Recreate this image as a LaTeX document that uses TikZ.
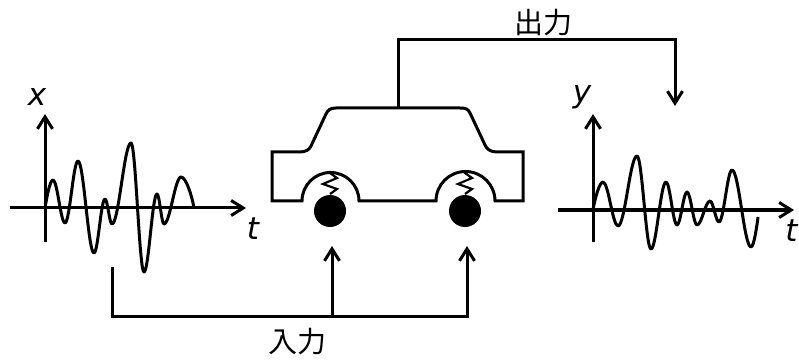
\documentclass[tikz,border=0pt]{standalone}
\usepackage{fontspec}
\setmainfont{DejaVu Sans}
\newfontfamily\cjkfont{Noto Sans CJK JP}
\usetikzlibrary{arrows.meta}
\begin{document}
\begin{tikzpicture}[x=1pt,y=-1pt,
  line width=3pt,
  arr/.style={-{Straight Barb[length=12pt,width=15pt,line width=3pt]}},
  var/.style={font=\fontsize{31}{31}\selectfont\itshape, inner sep=0pt},
  cjk/.style={font=\cjkfont\fontsize{29}{29}\selectfont, inner sep=0pt},
  wheel/.style={circle, fill=black, minimum size=32pt, inner sep=0pt},
  spring/.style={line width=2.2pt, line join=miter}]
\useasboundingbox (0,0) rectangle (799,363);

% ---- input signal x(t) ----
\coordinate (xo) at (45,242);
\coordinate (xtop) at (45,114);
\coordinate (xl) at (10,208);
\coordinate (xr) at (246,208);
\draw[arr] (xo) -- (xtop);
\draw[arr] (xl) -- (xr);
\node[var] (xlab) at (37,97) {x};
\node[var] (tlab1) at (253,229) {t};
\draw[line join=round]
  (45,208) .. controls +(2,-12) and +(-3,0) .. (53,180)
  .. controls +(4.3,0) and +(-4.3,0) .. (65,223)
  .. controls +(4.7,0) and +(-4.7,0) .. (78,161)
  .. controls +(5.8,0) and +(-5.8,0) .. (94,253)
  .. controls +(4,0) and +(-4,0) .. (105,199)
  .. controls +(2.5,0) and +(-2.5,0) .. (112,224)
  .. controls +(6.8,0) and +(-6.8,0) .. (131,143)
  .. controls +(4.7,0) and +(-4.7,0) .. (144,272)
  .. controls +(4.7,0) and +(-4.7,0) .. (157,194)
  .. controls +(2.5,0) and +(-2.5,0) .. (164,224)
  .. controls +(6,0) and +(-6,0) .. (181,177)
  .. controls +(5,0) and +(-2,-12) .. (194,208);

% ---- output signal y(t) ----
\coordinate (yo) at (593,242);
\coordinate (ytop) at (593,114);
\coordinate (yl) at (558,210);
\coordinate (yr) at (794,210);
\draw[arr] (yo) -- (ytop);
\draw[arr] (yl) -- (yr);
\node[var] (ylab) at (582,97) {y};
\node[var, anchor=east] (tlab2) at (799,231) {t};
\draw[line join=round]
  (593,210) .. controls +(2,-12) and +(-3.5,0) .. (603,182)
  .. controls +(5.4,0) and +(-5.4,0) .. (618,226)
  .. controls +(6.9,0) and +(-6.9,0) .. (637,156)
  .. controls +(5.1,0) and +(-5.1,0) .. (651,249)
  .. controls +(5.4,0) and +(-5.4,0) .. (666,182)
  .. controls +(4,0) and +(-4,0) .. (677,225)
  .. controls +(3.6,0) and +(-3.6,0) .. (687,192)
  .. controls +(3.6,0) and +(-3.6,0) .. (697,225)
  .. controls +(4.7,0) and +(-4.7,0) .. (710,201)
  .. controls +(3.3,0) and +(-3.3,0) .. (719,222)
  .. controls +(4.7,0) and +(-4.7,0) .. (732,170)
  .. controls +(6.9,0) and +(-6.9,0) .. (751,247)
  .. controls +(3,0) and +(-1,8) .. (758,217);

% ---- car body ----
\draw[line join=miter]
  (272,201) -- (302,201) arc[start angle=180, end angle=0, radius=28.5pt]
  -- (436,201) arc[start angle=180, end angle=0, radius=29.5pt]
  -- (523,201) -- (523,152) -- (497,152)
  .. controls (490,152) and (487,149) .. (485,145)
  -- (470,113) .. controls (468,109) and (466,108) .. (460,108)
  -- (336,108) .. controls (330,108) and (328,110) .. (326,114)
  -- (311,146) .. controls (309,150) and (306,152) .. (299,152)
  -- (272,152) -- cycle;

% springs and wheels
\draw[spring] (330,171) -- (330,173) -- (337,178) -- (323,184) -- (337,189) -- (330,194);
\draw[spring] (465,171) -- (465,173) -- (472,178) -- (458,184) -- (472,189) -- (465,194);
\node[wheel] (wl) at (330,211) {};
\node[wheel] (wr) at (465,211) {};

% ---- output connector ----
\coordinate (roof) at (398,108);
\coordinate (oa) at (398,40);
\coordinate (ob) at (675,40);
\coordinate (otip) at (675,106);
\draw[arr, line join=miter] (roof) -- (oa) -- (ob) -- (otip);
\node[cjk] (outlab) at (543,23) {出力};

% ---- input connector ----
\coordinate (ia) at (112,267);
\coordinate (ib) at (112,316);
\coordinate (ic) at (467,316);
\coordinate (ij) at (332,316);
\coordinate (itipl) at (332,246);
\coordinate (itipr) at (467,246);
\draw[arr, line join=miter] (ia) -- (ib) -- (ic) -- (itipr);
\draw[arr] (ij) -- (itipl);
\node[cjk] (inlab) at (297,342) {入力};
\end{tikzpicture}
\end{document}
